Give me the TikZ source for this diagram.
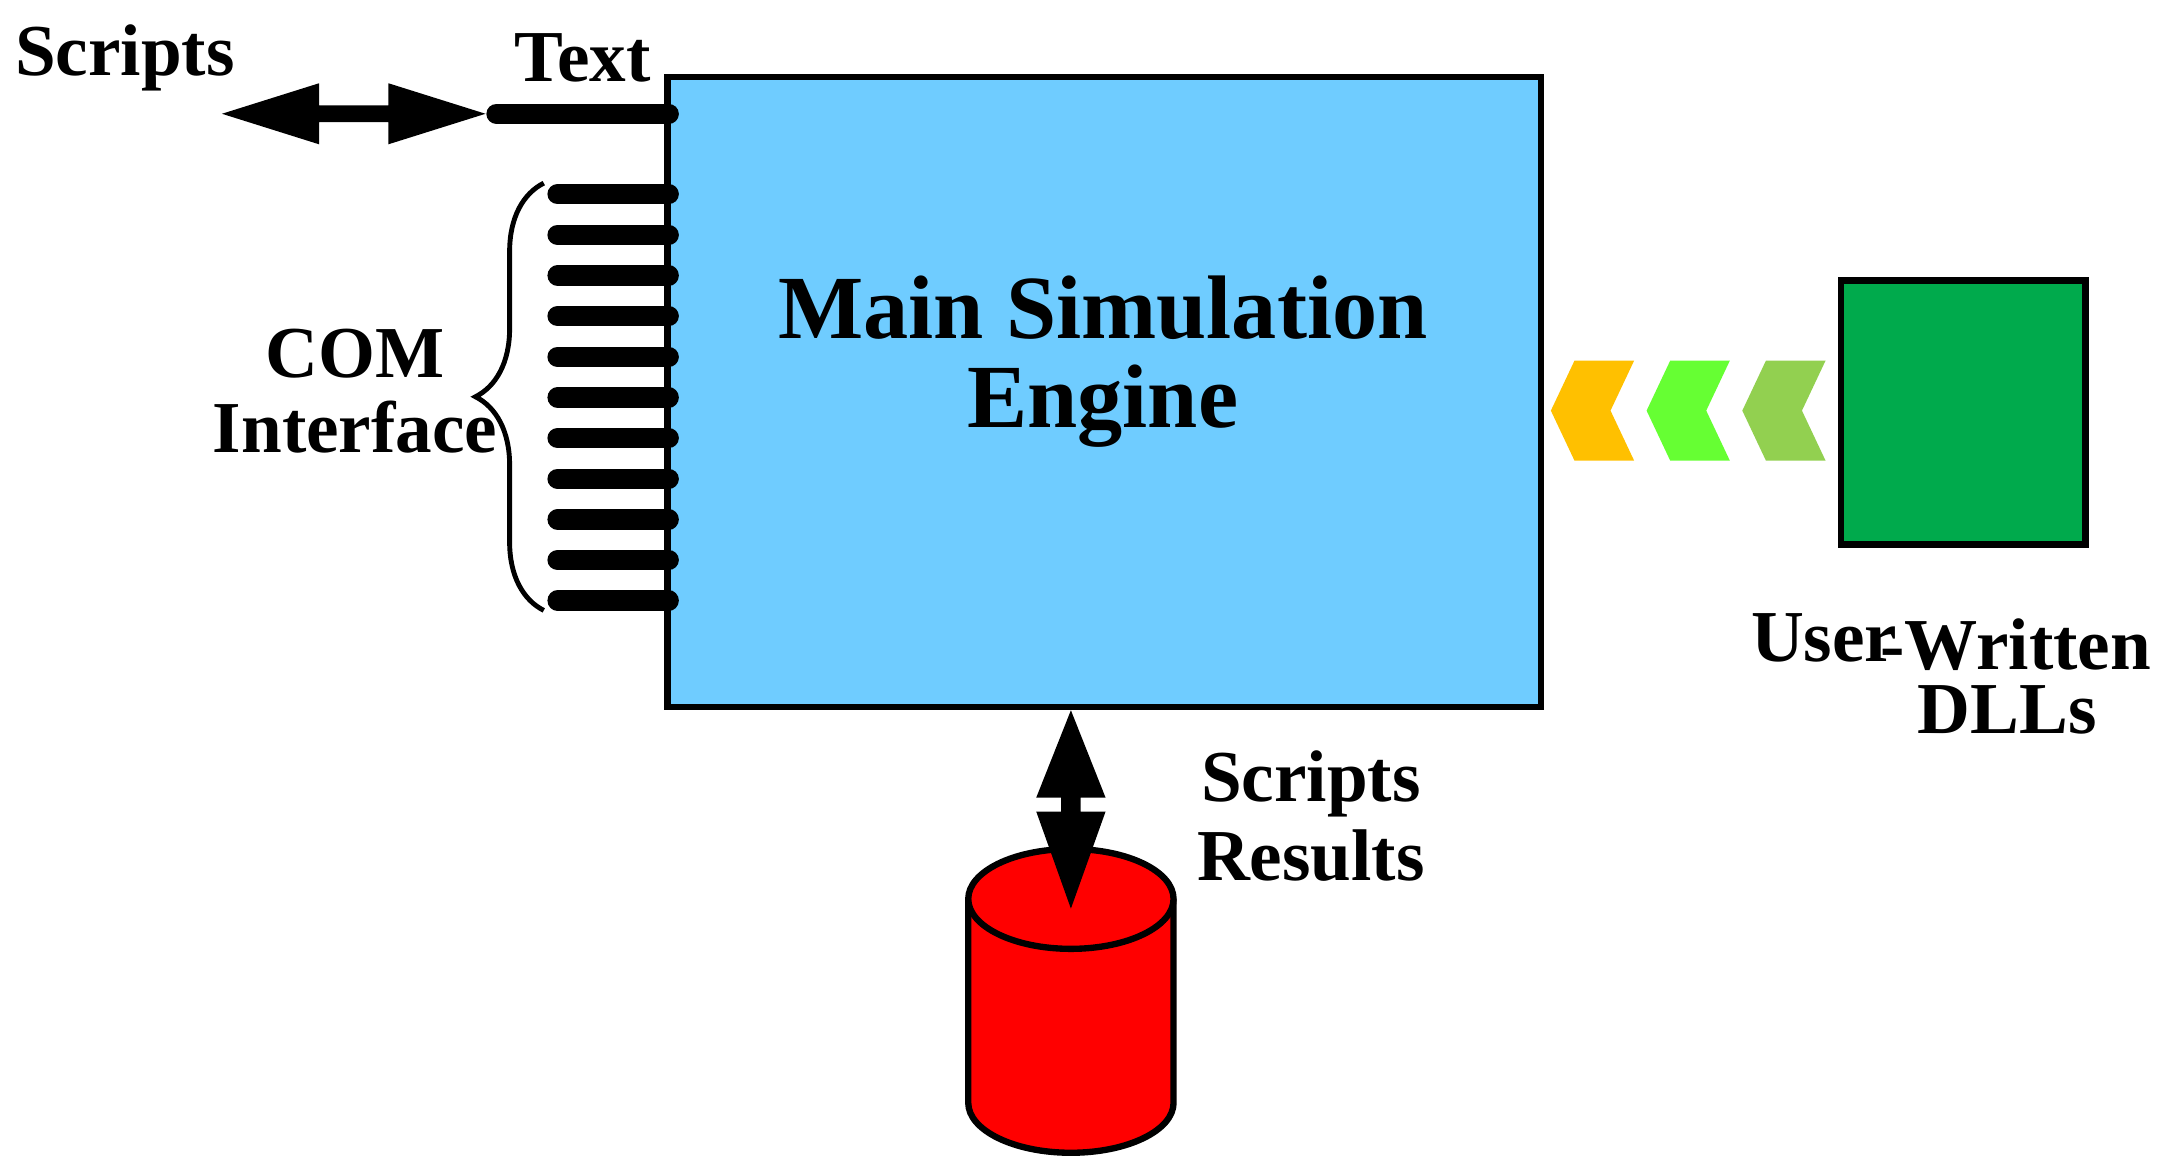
\documentclass[tikz,border=0pt]{standalone}
\usepackage{fontspec}
\setmainfont{Liberation Serif}
\usetikzlibrary{decorations.pathreplacing}
\definecolor{engblue}{RGB}{111,204,255}
\definecolor{dllgreen}{RGB}{0,170,76}
\definecolor{chA}{RGB}{255,192,0}
\definecolor{chB}{RGB}{102,255,51}
\definecolor{chC}{RGB}{146,208,80}
\begin{document}
\begin{tikzpicture}[x=0.01cm,y=-0.01cm,
  lbl/.style={font=\bfseries\fontsize{15}{17}\selectfont,inner sep=0pt},
  big/.style={font=\bfseries\fontsize{18.5}{21}\selectfont,inner sep=0pt},
  pin/.style={line width=4.2pt,line cap=round}]
\useasboundingbox (0,0) rectangle (1560,847);
\node[draw=black,line width=1.3pt,fill=engblue,minimum width=6.29cm,minimum height=4.54cm,anchor=north west,inner sep=0pt] (main) at (479,53) {};
\node[big] (t1) at (795,222) {Main Simulation};
\node[big] (t2) at (795,293) {Engine};
\coordinate (tpA) at (358,82); \coordinate (tpB) at (482,82);
\draw[pin] (tpA) -- (tpB);
\foreach \i in {0,...,10}{
  \coordinate (cA\i) at (402,{140+29.3*\i}); \coordinate (cB\i) at (482,{140+29.3*\i});
  \draw[pin] (cA\i) -- (cB\i);}
\coordinate (brT) at (392,132); \coordinate (brB) at (392,440);
\draw[line width=1pt,decorate,decoration={brace,amplitude=14pt}] (brB) -- (brT);
\node[lbl] (com) at (256,255) {COM};
\node[lbl] (intf) at (256,308) {Interface};
\node[lbl] (scr) at (90,42) {Scripts};
\node[lbl] (txt) at (420,42) {Text};
\fill (160,82) -- (230,60) -- (230,76) -- (280,76) -- (280,60) -- (350,82) -- (280,104) -- (280,88) -- (230,88) -- (230,104) -- cycle;
\node[draw=black,line width=1.3pt,fill=dllgreen,minimum width=1.76cm,minimum height=1.9cm,anchor=north west,inner sep=0pt] (dll) at (1325,200) {};
\fill[chA] (1118,296) -- (1135,260) -- (1178,260) -- (1161,296) -- (1178,332) -- (1135,332) -- cycle;
\fill[chB] (1187,296) -- (1204,260) -- (1247,260) -- (1230,296) -- (1247,332) -- (1204,332) -- cycle;
\fill[chC] (1256,296) -- (1273,260) -- (1316,260) -- (1299,296) -- (1316,332) -- (1273,332) -- cycle;
\node[lbl] (user) at (1315,460) {User};
\node[lbl] (writ) at (1453,465) {-Written};
\node[lbl] (dlls) at (1447,512) {DLLs};
\fill[red] (698,648) -- (698,795) arc[start angle=180,end angle=0,x radius=74,y radius=36] -- (846,648) -- cycle;
\draw[line width=1.3pt] (698,648) -- (698,795) arc[start angle=180,end angle=0,x radius=74,y radius=36] -- (846,648);
\draw[line width=1.3pt,fill=red] (772,648) ellipse[x radius=74,y radius=36];
\fill (772,512) -- (797,575) -- (779,575) -- (779,585) -- (797,585) -- (772,655) -- (747,585) -- (765,585) -- (765,575) -- (747,575) -- cycle;
\node[lbl] (s2) at (945,565) {Scripts};
\node[lbl] (r2) at (945,617) {Results};
\end{tikzpicture}
\end{document}
